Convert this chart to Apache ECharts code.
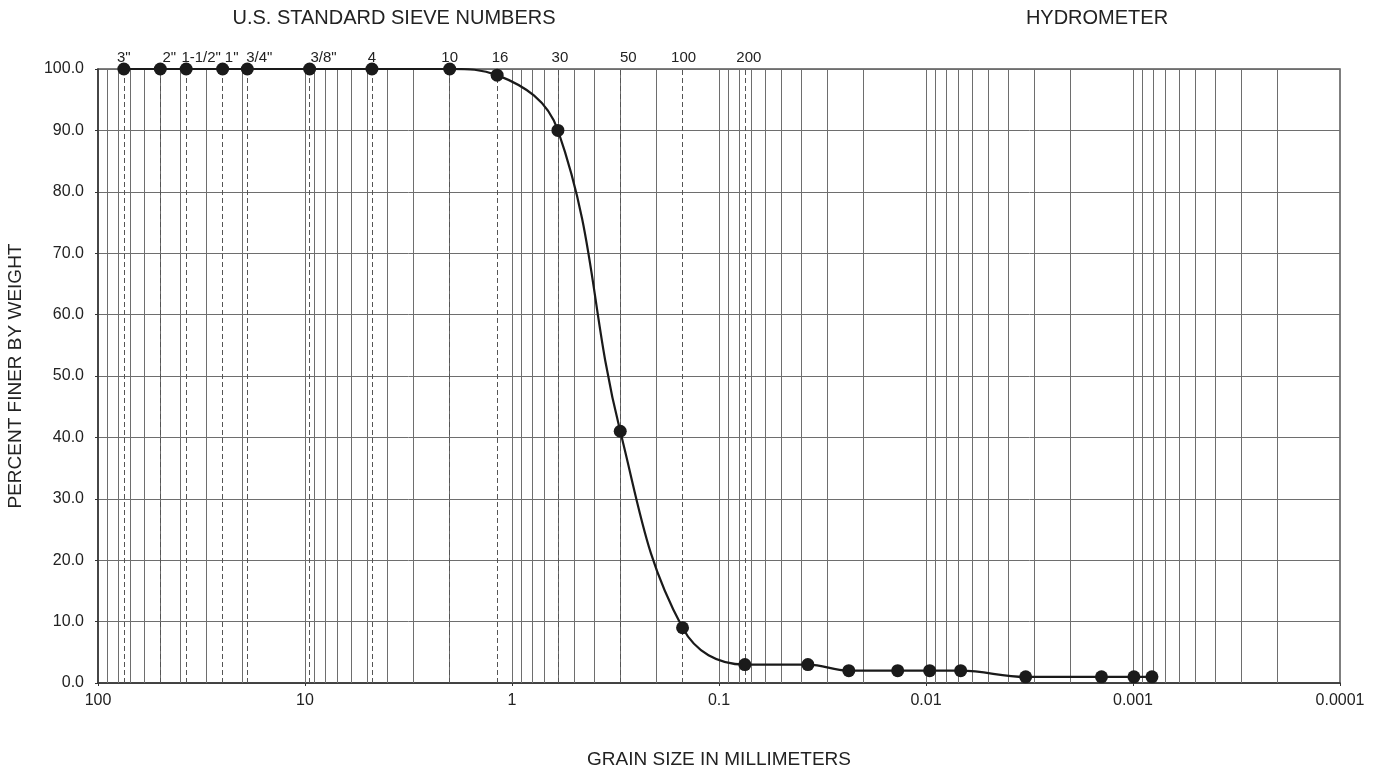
<!DOCTYPE html>
<html>
<head>
<meta charset="utf-8">
<title>Grain size distribution</title>
<script src="https://cdn.jsdelivr.net/npm/echarts@6/dist/echarts.min.js"></script>
<style>
  html, body { margin: 0; padding: 0; background: #fff; }
  #chart { width: 1377px; height: 772px; }
</style>
</head>
<body>
<div id="chart"></div>
<script>
  // sieve analysis (mm / percent finer)
  var sieveNames = ['3"', '2"', '1-1/2"', '1"', '3/4"', '3/8"', '4', '10', '16', '30', '50', '100', '200']
  var sieveSizes = [75, 50, 37.5, 25, 19, 9.5, 4.75, 2.0, 1.18, 0.6, 0.3, 0.15, 0.075]
  var sievePassing = [100, 100, 100, 100, 100, 100, 100, 100, 99, 90, 41, 9, 3]
  // hydrometer readings
  var hydroSizes = [0.0372, 0.0236, 0.0137, 0.0096, 0.0068, 0.0033, 0.00142, 0.00099, 0.00081]
  var hydroPassing = [3, 2, 2, 2, 2, 1, 1, 1, 1]
  // axis ticks
  var xTickLabels = ['100', '10', '1', '0.1', '0.01', '0.001', '0.0001']
  var yTickLabels = ['0.0', '10.0', '20.0', '30.0', '40.0', '50.0', '60.0', '70.0', '80.0', '90.0', '100.0']

  // small horizontal nudge of the sieve names (layout only)
  var labelNudge = [0, 9, 15, 9, 12, 14, 0, 0, 3, 2, 8, 1, 4]

  var font = 'Liberation Sans, Arial, sans-serif'
  var myChart = echarts.init(document.getElementById('chart'))

  var points = []
  for (var i = 0; i < sieveSizes.length; i++) points.push([sieveSizes[i], sievePassing[i]])
  for (var j = 0; j < hydroSizes.length; j++) points.push([hydroSizes[j], hydroPassing[j]])

  // log grid lines 1..9 in each decade
  var gridLines = []
  for (var e = -4; e <= 1; e++) {
    for (var k = 1; k <= 9; k++) {
      if (e === -4 && k === 1) continue
      gridLines.push({
        xAxis: k * Math.pow(10, e),
        lineStyle: { color: '#6e6e6e', width: 1, type: 'solid' },
        label: { show: false }
      })
    }
  }
  var sieveLines = sieveSizes.map(function (v, i) {
    return {
      name: sieveNames[i],
      xAxis: v,
      lineStyle: { color: '#555', width: 1, type: [5, 3] },
      label: {
        show: true,
        position: 'end',
        formatter: '{b}',
        distance: 4,
        offset: [labelNudge[i], 0],
        fontSize: 15,
        fontFamily: font,
        color: '#222'
      }
    }
  })

  var option = {
    animation: false,
    grid: {
      left: 98,
      right: 37,
      top: 69,
      bottom: 89,
      show: true,
      borderColor: '#555',
      borderWidth: 1.5
    },
    xAxis: {
      type: 'log',
      logBase: 10,
      min: 0.0001,
      max: 100,
      inverse: true,
      axisLine: { show: true, onZero: false, lineStyle: { color: '#333', width: 1.5 } },
      axisTick: { show: true, length: 3, lineStyle: { color: '#333' } },
      axisLabel: {
        fontSize: 16,
        fontFamily: font,
        color: '#222',
        margin: 10,
        formatter: function (v) {
          var idx = Math.round(2 - Math.log10(v))
          return xTickLabels[idx] || ''
        }
      },
      splitLine: { show: false }
    },
    yAxis: {
      type: 'value',
      min: 0,
      max: 100,
      interval: 10,
      axisLine: { show: true, lineStyle: { color: '#333', width: 1.5 } },
      axisTick: { show: true, length: 3, lineStyle: { color: '#333' } },
      axisLabel: {
        fontSize: 16,
        fontFamily: font,
        color: '#222',
        margin: 14,
        formatter: function (v) { return yTickLabels[Math.round(v / 10)] }
      },
      splitLine: { show: true, lineStyle: { color: '#6e6e6e', width: 1 } }
    },
    graphic: [
      {
        type: 'text', x: 394, y: 18,
        style: { text: 'U.S. STANDARD SIEVE NUMBERS', fill: '#222', fontSize: 20, fontFamily: font, align: 'center', verticalAlign: 'middle' }
      },
      {
        type: 'text', x: 1097, y: 18,
        style: { text: 'HYDROMETER', fill: '#222', fontSize: 20, fontFamily: font, align: 'center', verticalAlign: 'middle' }
      },
      {
        type: 'text', x: 719, y: 760,
        style: { text: 'GRAIN SIZE IN MILLIMETERS', fill: '#222', fontSize: 19, fontFamily: font, align: 'center', verticalAlign: 'middle' }
      },
      {
        type: 'text', x: 16, y: 376, rotation: Math.PI / 2,
        style: { text: 'PERCENT FINER BY WEIGHT', fill: '#222', fontSize: 19, fontFamily: font, align: 'center', verticalAlign: 'middle' }
      }
    ],
    series: [
      {
        name: 'Percent finer',
        type: 'line',
        z: 3,
        smooth: 0.4,
        symbol: 'circle',
        symbolSize: 13,
        showAllSymbol: true,
        lineStyle: { color: '#1a1a1a', width: 2.2 },
        itemStyle: { color: '#1a1a1a' },
        data: points,
        markLine: {
          z: 1,
          silent: true,
          animation: false,
          precision: 10,
          symbol: ['none', 'none'],
          data: gridLines.concat(sieveLines)
        }
      }
    ]
  }

  myChart.setOption(option)
</script>
</body>
</html>
